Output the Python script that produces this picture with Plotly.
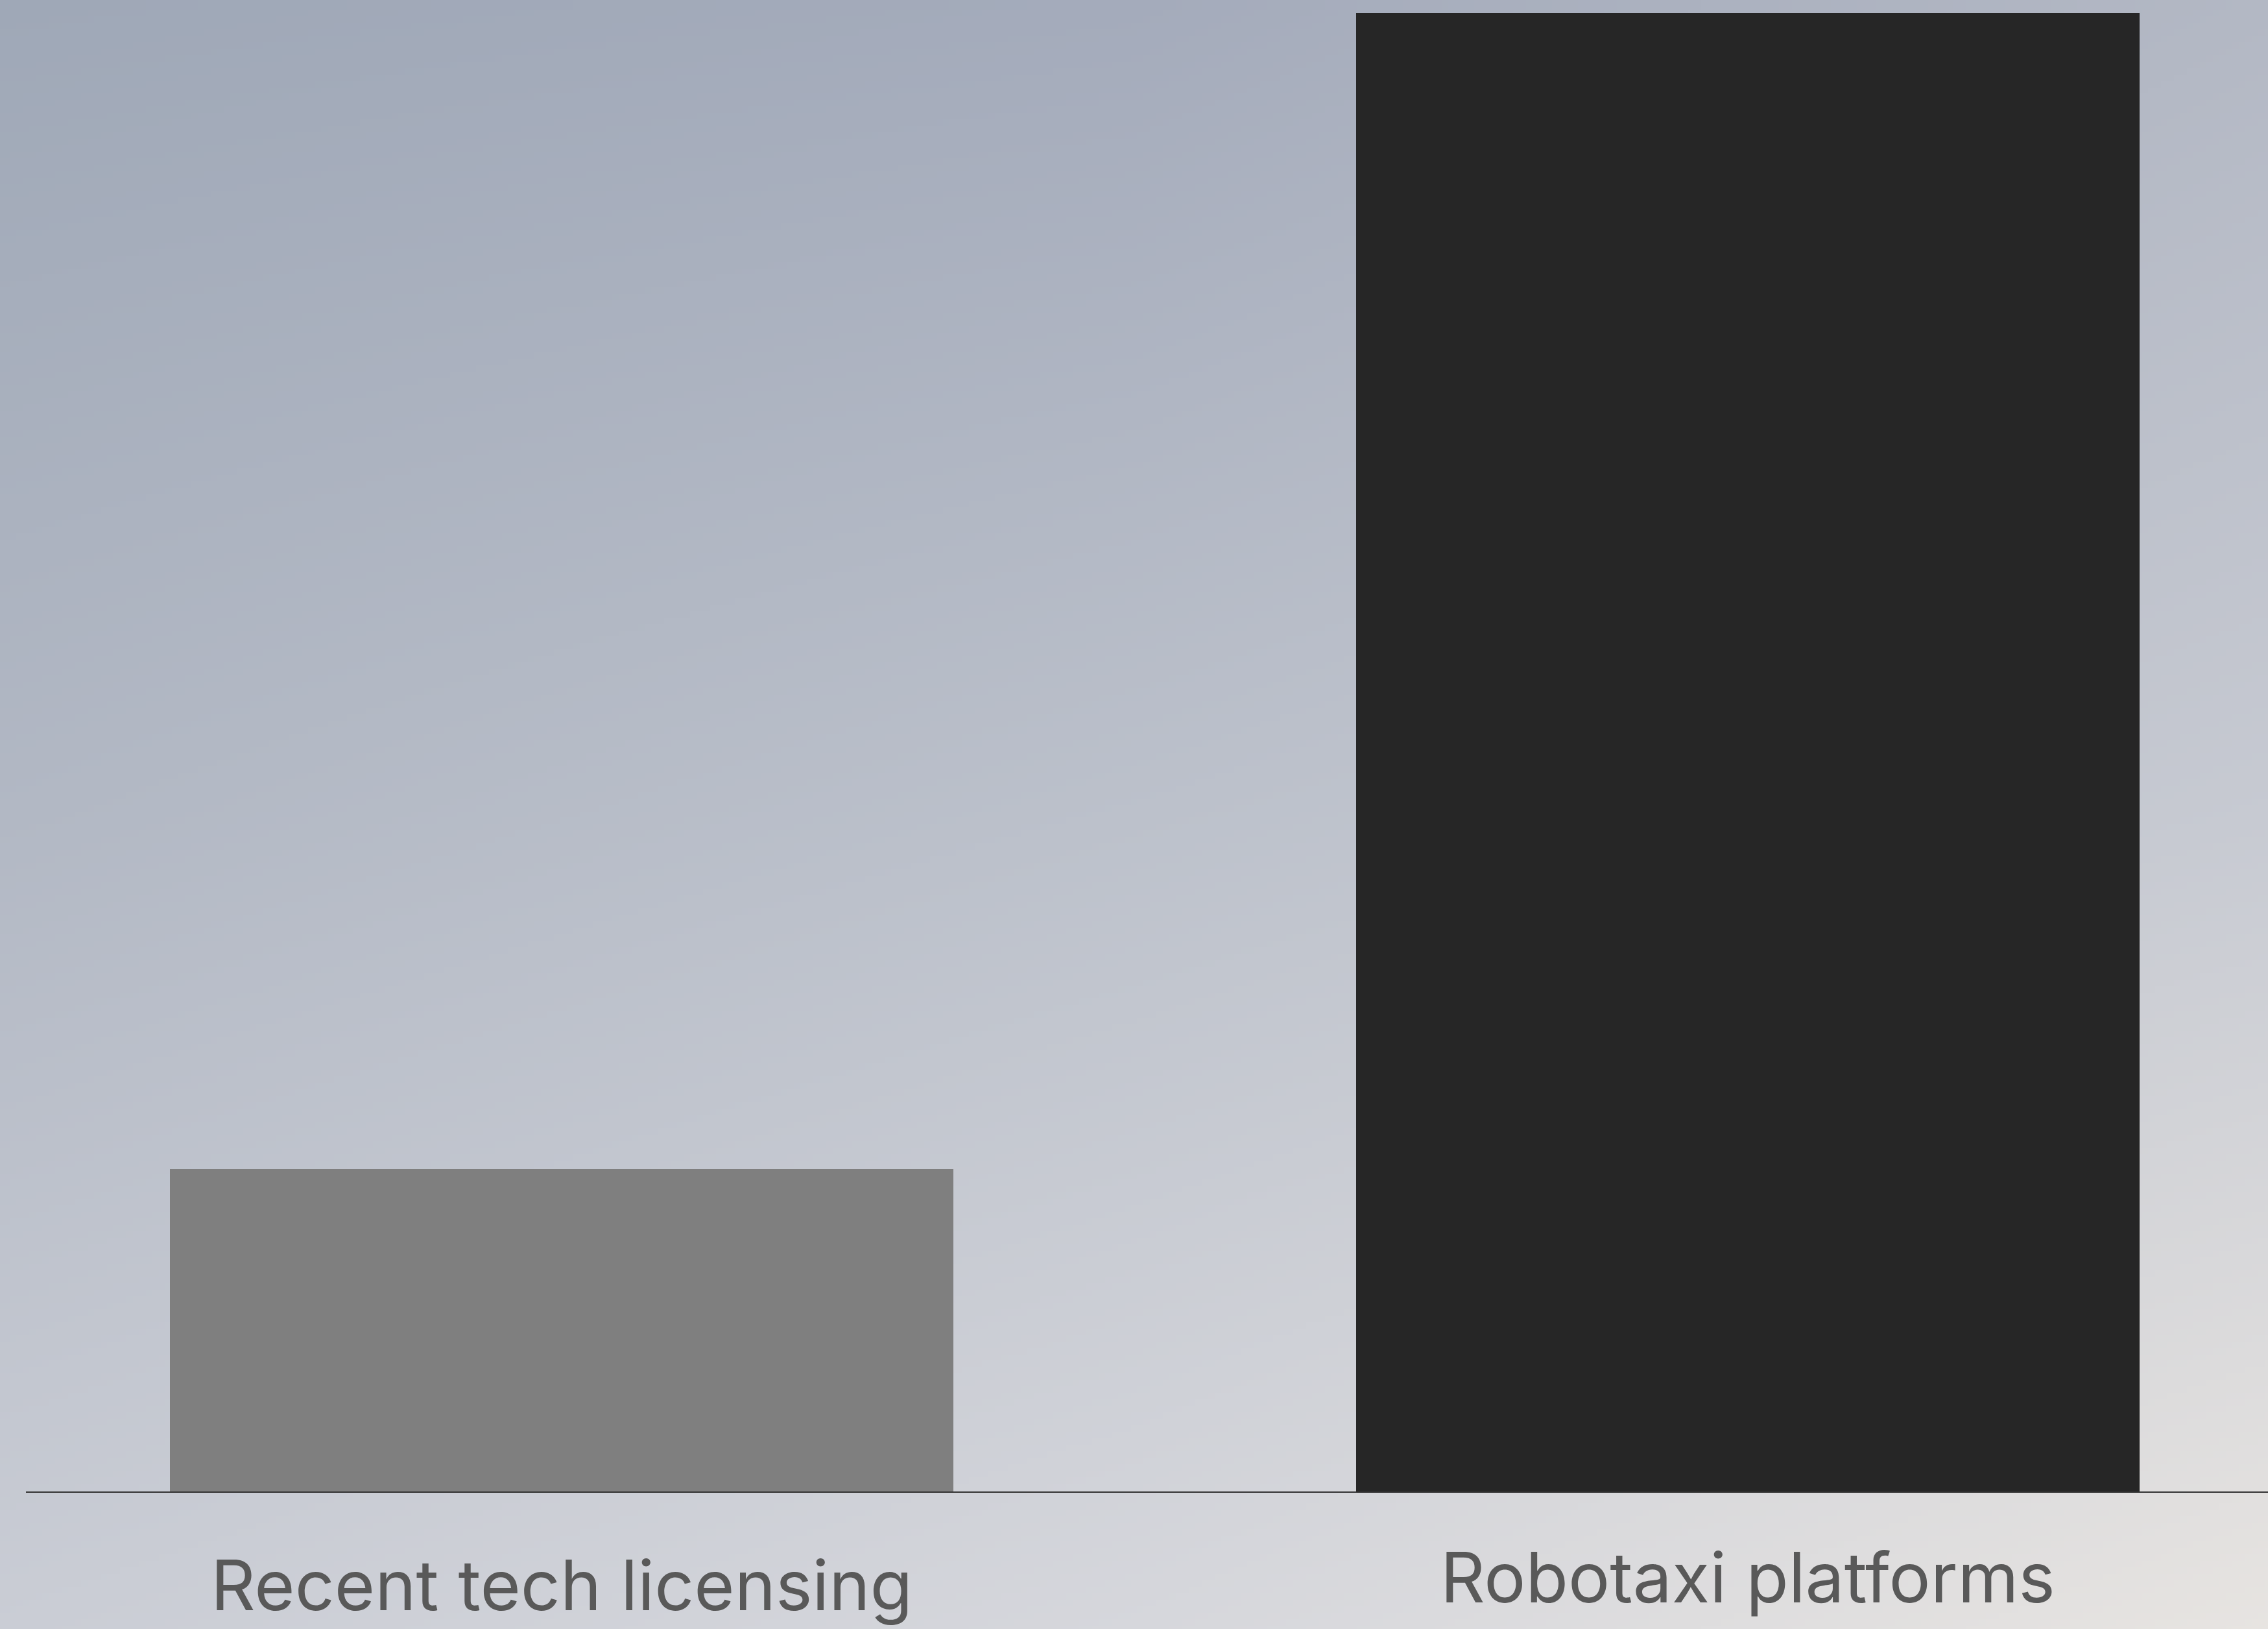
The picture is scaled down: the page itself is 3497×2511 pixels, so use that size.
import base64
import struct
import zlib

import numpy as np
import plotly.graph_objects as go

# Chart data
categories = ["Recent tech licensing", "Robotaxi platforms"]
values = [21.8, 100.0]
bar_colors = ["#7f7f7f", "#262626"]

W, H = 3497, 2511


def hex_rgb(h):
    h = h.lstrip("#")
    return [int(h[i:i + 2], 16) for i in (0, 2, 4)]


def gradient_png(grid, w=350, h=252):
    """Bilinear RGB gradient from a grid of control colours, encoded as a PNG data URI."""
    g = np.array([[hex_rgb(c) for c in row] for row in grid], dtype=float)
    rows, cols = g.shape[:2]
    ys = np.linspace(0, rows - 1, h)
    xs = np.linspace(0, cols - 1, w)
    y0 = np.clip(np.floor(ys).astype(int), 0, rows - 2)
    x0 = np.clip(np.floor(xs).astype(int), 0, cols - 2)
    fy = (ys - y0)[:, None, None]
    fx = (xs - x0)[None, :, None]
    a = g[y0][:, x0]
    b = g[y0][:, x0 + 1]
    c = g[y0 + 1][:, x0]
    d = g[y0 + 1][:, x0 + 1]
    img = (a * (1 - fx) * (1 - fy) + b * fx * (1 - fy) + c * (1 - fx) * fy + d * fx * fy)
    img = np.clip(np.round(img), 0, 255).astype(np.uint8)
    raw = b"".join(b"\x00" + img[i].tobytes() for i in range(h))

    def chunk(tag, data):
        body = tag + data
        return struct.pack(">I", len(data)) + body + struct.pack(">I", zlib.crc32(body) & 0xFFFFFFFF)

    png = (b"\x89PNG\r\n\x1a\n"
           + chunk(b"IHDR", struct.pack(">IIBBBBB", w, h, 8, 2, 0, 0, 0))
           + chunk(b"IDAT", zlib.compress(raw, 9))
           + chunk(b"IEND", b""))
    return "data:image/png;base64," + base64.b64encode(png).decode()


# Soft cool-to-warm backdrop (top-left slate blue, bottom-right warm grey)
backdrop = [
    ["#9fa8b7", "#a4abbb", "#b3b8c4"],
    ["#b2b8c4", "#bcc1cb", "#c7cad2"],
    ["#cacdd5", "#d6d7dc", "#e7e4e1"],
]

fig = go.Figure()
fig.add_trace(go.Bar(
    x=categories,
    y=values,
    marker=dict(color=bar_colors, line=dict(width=0)),
    width=0.66,
    hoverinfo="skip",
))

base_y = 2299  # pixel row of the baseline
label_font = dict(family="Inter, sans-serif", size=107, color="#595959")
label_rows = [2443, 2431]
for cat, row in zip(categories, label_rows):
    fig.add_annotation(
        x=cat, xref="x", y=1 - row / H, yref="paper",
        text=cat, showarrow=False, font=label_font,
        xanchor="center", yanchor="middle",
    )

fig.update_layout(
    width=W, height=H,
    margin=dict(l=0, r=0, t=0, b=0),
    paper_bgcolor="#c0c4cd",
    plot_bgcolor="rgba(0,0,0,0)",
    showlegend=False,
    bargap=0,
    images=[dict(
        source=gradient_png(backdrop), xref="paper", yref="paper",
        x=0, y=1, sizex=1, sizey=1, xanchor="left", yanchor="top",
        sizing="stretch", layer="below",
    )],
    xaxis=dict(
        domain=[40 / W, 1], range=[-0.4516, 1.4385],
        showline=True, linecolor="#333333", linewidth=2,
        showgrid=False, zeroline=False, ticks="", showticklabels=False,
    ),
    yaxis=dict(
        domain=[1 - base_y / H, 1], range=[0, 100.88],
        visible=False, showgrid=False, zeroline=False,
    ),
)

fig.write_html("out.html")
